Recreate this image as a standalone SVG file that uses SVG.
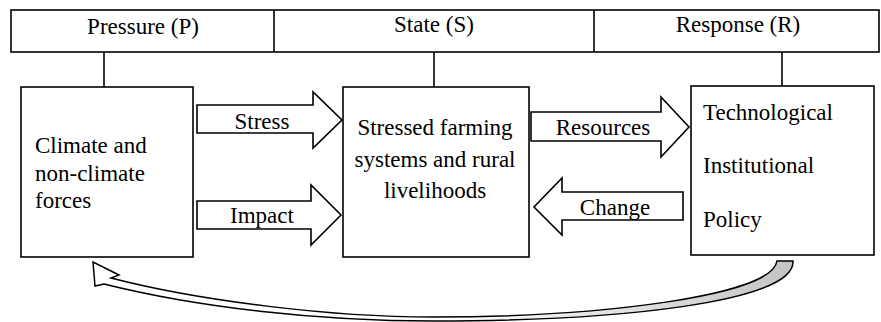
<svg xmlns="http://www.w3.org/2000/svg" width="881" height="322" viewBox="0 0 881 322" font-family="'Liberation Serif', 'Times New Roman', 'DejaVu Serif', serif">
<style>
.box{fill:#fff;stroke:#000;stroke-width:1.6}
.ln{fill:none;stroke:#000;stroke-width:1.6}
.arr{fill:#fff;stroke:#000;stroke-width:1.6;stroke-linejoin:miter}
text{font-family:'Liberation Serif','Times New Roman','DejaVu Serif',serif;font-size:23px;fill:#000}
.c{text-anchor:middle}
</style>
<defs>
<linearGradient id="g" gradientUnits="userSpaceOnUse" x1="450" y1="0" x2="790" y2="0">
<stop offset="0" stop-color="#fff"/>
<stop offset="1" stop-color="#c4c4c4"/>
</linearGradient>
</defs>
<g id="header">
<rect class="box" x="11" y="10" width="868" height="42"/>
<line class="ln" x1="274" y1="10" x2="274" y2="52"/>
<line class="ln" x1="594" y1="10" x2="594" y2="52"/>
<text class="c" x="143" y="34">Pressure (P)</text>
<text class="c" x="434" y="32">State (S)</text>
<text class="c" x="738" y="32">Response (R)</text>
</g>
<g id="connectors">
<line class="ln" x1="104" y1="52" x2="104" y2="87"/>
<line class="ln" x1="434" y1="52" x2="434" y2="87"/>
<line class="ln" x1="782" y1="52" x2="782" y2="86"/>
<path class="arr" d="M197,105 H313 V92 L342,120 L313,148 V133 H197 Z"/>
<path class="arr" d="M197,201 H311 V185 L341,215 L311,245 V229 H197 Z"/>
<path class="arr" d="M531,112 H661 V97 L689,127 L661,157 V141 H531 Z"/>
<path class="arr" d="M683,192 H562 V178 L534,207 L562,235 V220 H683 Z"/>
<path d="M777,261 L793,261 C795,302 620,321 433,321 C320,321 200,308 104,284 L95,286 L93,262 L119,275 L111,278 C200,301 330,317 433,317 C600,317 772,296 777,261 Z" fill="url(#g)" stroke="#000" stroke-width="1.5" stroke-linejoin="miter"/>
<text class="c" x="262" y="129">Stress</text>
<text class="c" x="262" y="223">Impact</text>
<text class="c" x="603" y="135">Resources</text>
<text class="c" x="615" y="215">Change</text>
</g>
<g id="pressure">
<rect class="box" x="21" y="87" width="172" height="170"/>
<text x="35" y="153">Climate and</text>
<text x="35" y="181">non-climate</text>
<text x="35" y="208">forces</text>
</g>
<g id="state">
<rect class="box" x="343" y="87" width="186" height="170"/>
<text class="c" x="435" y="135">Stressed farming</text>
<text class="c" x="435" y="167">systems and rural</text>
<text class="c" x="435" y="198">livelihoods</text>
</g>
<g id="response">
<rect class="box" x="691" y="86" width="183" height="169"/>
<text x="703" y="120">Technological</text>
<text x="703" y="173">Institutional</text>
<text x="703" y="227">Policy</text>
</g>
</svg>
